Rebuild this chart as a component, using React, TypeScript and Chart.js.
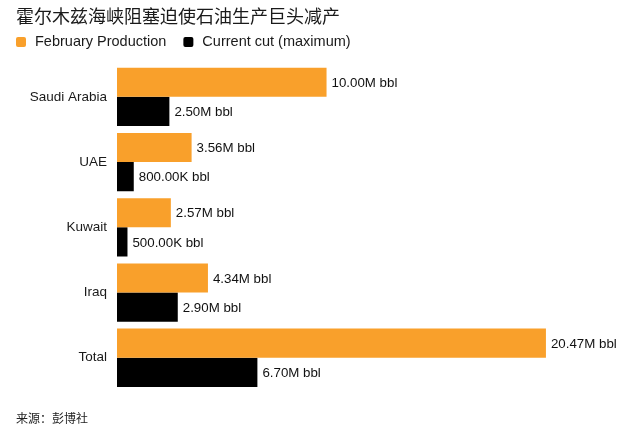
import React, { useEffect, useRef } from "react";
import { Chart, registerables } from "chart.js";

Chart.register(...registerables);

const titleText = "霍尔木兹海峡阻塞迫使石油生产巨头减产";
const sourceText = "来源：彭博社";
const categories = ["Saudi Arabia", "UAE", "Kuwait", "Iraq", "Total"];
const februaryProduction = [10.0, 3.56, 2.57, 4.34, 20.47];
const currentCut = [2.5, 0.8, 0.5, 2.9, 6.7];
const seriesNames = ["February Production", "Current cut (maximum)"];
const seriesColors = ["#F9A02B", "#000000"];

const LATIN = "'Liberation Sans', Arial, Helvetica, sans-serif";
const CJK = "'Noto Sans CJK SC', sans-serif";

function formatValue(v: number): string {
  return v >= 1 ? `${v.toFixed(2)}M bbl` : `${(v * 1000).toFixed(2)}K bbl`;
}

const valueLabelPlugin = {
  id: "valueLabels",
  afterDatasetsDraw(chart: any) {
    const ctx = chart.ctx;
    ctx.save();
    ctx.font = `13.3px ${LATIN}`;
    ctx.fillStyle = "#111111";
    ctx.textAlign = "left";
    ctx.textBaseline = "middle";
    chart.data.datasets.forEach((ds: any, di: number) => {
      const meta = chart.getDatasetMeta(di);
      meta.data.forEach((el: any, i: number) => {
        ctx.fillText(formatValue(ds.data[i]), el.x + 5, el.y + 1);
      });
    });
    ctx.restore();
  },
};

const headerPlugin = {
  id: "headerFooter",
  afterDraw(chart: any) {
    const ctx = chart.ctx;
    ctx.save();
    // title
    ctx.font = `18px ${CJK}`;
    ctx.fillStyle = "#1a1a1a";
    ctx.textAlign = "left";
    ctx.textBaseline = "middle";
    ctx.fillText(titleText, 16, 16);
    // legend
    ctx.font = `14.5px ${LATIN}`;
    let x = 16;
    chart.data.datasets.forEach((ds: any) => {
      ctx.fillStyle = ds.backgroundColor;
      ctx.beginPath();
      (ctx as any).roundRect(x, 37, 10, 10, 2);
      ctx.fill();
      ctx.fillStyle = "#1a1a1a";
      const tx = x + 19;
      ctx.fillText(ds.label, tx, 42);
      x = tx + ctx.measureText(ds.label).width + 17;
    });
    // source
    ctx.font = `12px ${CJK}`;
    ctx.fillStyle = "#222222";
    ctx.fillText(sourceText, 16, 418);
    ctx.restore();
  },
};

export default function App() {
  const canvasRef = useRef<HTMLCanvasElement | null>(null);

  useEffect(() => {
    const canvas = canvasRef.current;
    if (!canvas) return;
    const chart = new Chart(canvas, {
      type: "bar",
      data: {
        labels: categories,
        datasets: [
          {
            label: seriesNames[0],
            data: februaryProduction,
            backgroundColor: seriesColors[0],
            borderWidth: 0,
          },
          {
            label: seriesNames[1],
            data: currentCut,
            backgroundColor: seriesColors[1],
            borderWidth: 0,
          },
        ],
      },
      options: {
        indexAxis: "y",
        animation: false,
        responsive: false,
        devicePixelRatio: 1,
        maintainAspectRatio: false,
        layout: { padding: { top: 64.2, bottom: 46.6, left: 0, right: 57 } },
        datasets: {
          bar: { categoryPercentage: 0.894, barPercentage: 1 },
        },
        scales: {
          x: {
            display: false,
            min: 0,
            max: 22,
          },
          y: {
            grid: { display: false, drawTicks: false },
            border: { display: false },
            ticks: {
              padding: 10,
              color: "#1a1a1a",
              font: { family: LATIN, size: 13.5 },
            },
            afterFit(scale: any) {
              scale.width = 117;
            },
          },
        },
        plugins: {
          legend: { display: false },
          title: { display: false },
          tooltip: { enabled: false },
        },
      },
      plugins: [valueLabelPlugin, headerPlugin],
    });
    return () => chart.destroy();
  }, []);

  return (
    <div style={{ position: "fixed", left: 0, top: 0, width: 635, height: 437, background: "#fff" }}>
      <canvas ref={canvasRef} width={635} height={437} style={{ display: "block", width: 635, height: 437 }} />
    </div>
  );
}
